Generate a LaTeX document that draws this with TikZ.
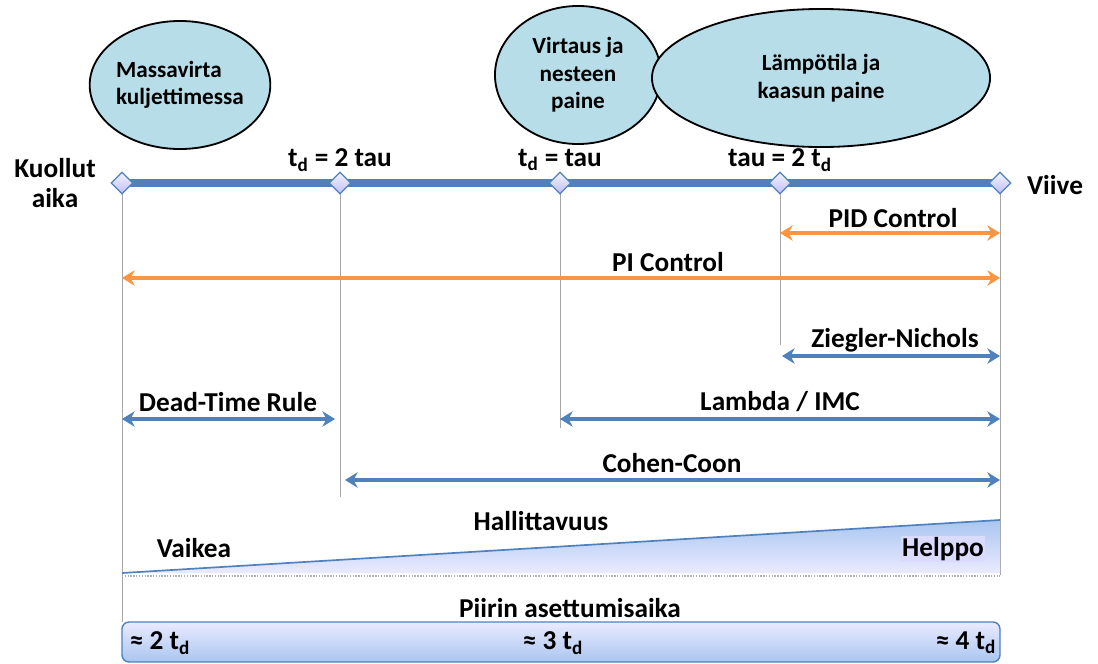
\documentclass[tikz,border=0pt]{standalone}
\usepackage{fontspec}
\setmainfont{Carlito}
\usetikzlibrary{positioning, arrows.meta, shapes.geometric}
\definecolor{bubble}{HTML}{B7DDE8}
\definecolor{axisblue}{HTML}{4F81BD}
\definecolor{tuneorange}{HTML}{F79646}
\definecolor{rampblue}{HTML}{A9C6F0}
\newcommand{\td}{t\textsubscript{d}}

\begin{document}
\begin{tikzpicture}[x=0.025cm, y=-0.025cm, node distance=1cm,
    lbl/.style={font=\fontsize{19.4}{22}\selectfont\bfseries, inner sep=1pt},
    proc/.style={ellipse, draw, line width=1.3pt, fill=bubble, align=center,
        font=\fontsize{16.5}{19.5}\selectfont\bfseries, inner sep=0pt},
    tickmark/.style={diamond, draw=axisblue, top color=blue!5, bottom color=blue!25, line width=0.8pt,
        minimum size=0.55cm, inner sep=0pt},
    guide/.style={draw=gray!70, line width=0.5pt},
    bluearr/.style={draw=axisblue, line width=2.6pt, {Stealth[length=9pt,width=11pt]}-{Stealth[length=9pt,width=11pt]}},
    orangearr/.style={draw=tuneorange, line width=2.6pt, {Stealth[length=9pt,width=11pt]}-{Stealth[length=9pt,width=11pt]}}]
        \useasboundingbox (0,0) rectangle (1098,664);

        % process bubbles
        \node[proc, align=left, minimum width=4.1cm, minimum height=3.2cm] (mass) at (180,85) {Massavirta\\kuljettimessa};
        \node[proc, minimum width=4.15cm, minimum height=3.45cm] (flow) at (578,75) {Virtaus ja\\nesteen\\paine};
        \node[proc, minimum width=8.45cm, minimum height=3.45cm] (temp) at (821,78) {Lämpötila ja\\kaasun paine};

        % guide lines
        \coordinate (g1) at (122,622);
        \coordinate (g2) at (340,497);
        \coordinate (g3) at (560,428);
        \coordinate (g4) at (780,345);
        \coordinate (g5) at (1000,575);
        \draw[guide] (122,183) -- (g1);
        \draw[guide] (340,183) -- (g2);
        \draw[guide] (560,183) -- (g3);
        \draw[guide] (780,183) -- (g4);
        \draw[guide] (1000,183) -- (g5);

        % delay axis
        \draw[axisblue, line width=5pt] (122,183) -- (1000,183);
        \node[tickmark] (m1) at (122,183) {};
        \node[tickmark] (m2) at (340,183) {};
        \node[tickmark] (m3) at (560,183) {};
        \node[tickmark] (m4) at (780,183) {};
        \node[tickmark] (m5) at (1000,183) {};
        \node[lbl, align=center] (dead) at (55,183) {Kuollut\\aika};
        \node[lbl] (delay) at (1055,185) {Viive};
        \node[lbl] (r1) at (340,160) {\td{} = 2 tau};
        \node[lbl] (r2) at (560,160) {\td{} = tau};
        \node[lbl] (r3) at (780,160) {tau = 2 \td};

        % tuning ranges
        \coordinate (pidA) at (780,233);  \coordinate (pidB) at (1000,233);
        \coordinate (piA) at (122,278);   \coordinate (piB) at (1000,278);
        \coordinate (znA) at (782,356);   \coordinate (znB) at (1000,356);
        \coordinate (dtA) at (122,419);   \coordinate (dtB) at (335,419);
        \coordinate (imA) at (560,419);   \coordinate (imB) at (1000,419);
        \coordinate (ccA) at (345,480);   \coordinate (ccB) at (1000,480);
        \draw[orangearr] (pidA) -- (pidB);
        \draw[orangearr] (piA) -- (piB);
        \draw[bluearr] (znA) -- (znB);
        \draw[bluearr] (dtA) -- (dtB);
        \draw[bluearr] (imA) -- (imB);
        \draw[bluearr] (ccA) -- (ccB);
        \node[lbl] (pid) at (893,218) {PID Control};
        \node[lbl] (pi) at (668,262) {PI Control};
        \node[lbl] (zn) at (895,340) {Ziegler-Nichols};
        \node[lbl] (dtr) at (228,402) {Dead-Time Rule};
        \node[lbl] (imc) at (780,402) {Lambda / IMC};
        \node[lbl] (cc) at (672,463) {Cohen-Coon};

        % controllability ramp
        \shade[top color=rampblue, bottom color=blue!8] (122,573) -- (1000,520) -- (1000,573) -- cycle;
        \draw[axisblue, line width=1.2pt] (122,573) -- (1000,520);
        \draw[gray!60, line width=1pt, densely dotted] (122,576) -- (1000,576);
        \node[lbl] (ctrl) at (541,521) {Hallittavuus};
        \node[lbl] (hard) at (194,548) {Vaikea};
        \node[lbl, fill=blue!14] (easy) at (943,549) {Helppo};

        % settling time
        \node[lbl] (settle) at (570,608) {Piirin asettumisaika};
        \shade[top color=blue!8, bottom color=rampblue, rounded corners=5pt] (122,622) rectangle (1000,662);
        \draw[axisblue, line width=1pt, rounded corners=5pt] (122,622) rectangle (1000,662);
        \node[lbl] (s2) at (160,643) {≈ 2 \td};
        \node[lbl] (s3) at (553,643) {≈ 3 \td};
        \node[lbl] (s4) at (966,643) {≈ 4 \td};
\end{tikzpicture}
\end{document}
